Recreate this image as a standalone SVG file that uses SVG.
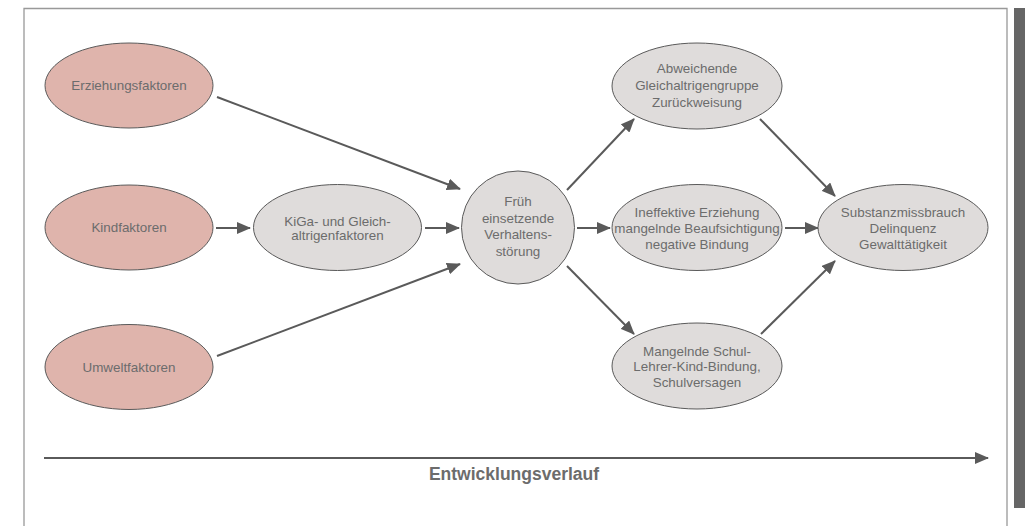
<svg xmlns="http://www.w3.org/2000/svg" width="1025" height="526" viewBox="0 0 1025 526">
<style>
.pink{fill:#dfb4ac;stroke:#5a5a5a;stroke-width:1}
.gray{fill:#dfdcdb;stroke:#5a5a5a;stroke-width:1}
text{font-family:"Liberation Sans",Arial,sans-serif;font-size:13.4px;fill:#6c6c6c;text-anchor:middle}
.con line{stroke:#5a5a5a;stroke-width:2;marker-end:url(#ah)}
</style>
<defs>
<marker id="ah" markerUnits="userSpaceOnUse" markerWidth="14" markerHeight="12" viewBox="0 0 14 12" refX="13" refY="6" orient="auto">
<path d="M0,0 L14,6 L0,12 Z" fill="#5a5a5a"/>
</marker>
</defs>
<rect x="0" y="0" width="1025" height="526" fill="#fff"/>
<path d="M24,540 V8.5 H1007 V540" fill="none" stroke="#999" stroke-width="1.3"/>
<rect x="1014" y="8" width="11" height="500" fill="#666"/>

<g class="con">
<line x1="217" y1="97" x2="460" y2="189"/>
<line x1="216" y1="228" x2="250" y2="228"/>
<line x1="425" y1="228" x2="459" y2="228"/>
<line x1="217" y1="356" x2="460" y2="264"/>
<line x1="567" y1="190" x2="634" y2="119"/>
<line x1="577" y1="228" x2="610" y2="228"/>
<line x1="567" y1="266" x2="634" y2="334"/>
<line x1="760" y1="119" x2="835" y2="196"/>
<line x1="785" y1="228" x2="818" y2="228"/>
<line x1="761" y1="334" x2="835" y2="261"/>
<line x1="44" y1="458" x2="988" y2="458"/>
</g>

<g id="erziehung"><ellipse class="pink" cx="129" cy="85.5" rx="84" ry="42.5"/><text x="129" y="90">Erziehungsfaktoren</text></g>
<g id="kind"><ellipse class="pink" cx="129" cy="227.5" rx="84" ry="42.5"/><text x="129" y="232">Kindfaktoren</text></g>
<g id="umwelt"><ellipse class="pink" cx="129" cy="367" rx="84" ry="42.5"/><text x="129" y="371.5">Umweltfaktoren</text></g>
<g id="kiga"><ellipse class="gray" cx="337.5" cy="227.5" rx="84" ry="43"/><text x="337.5" y="226">KiGa- und Gleich-</text><text x="337.5" y="240">altrigenfaktoren</text></g>
<g id="frueh"><circle class="gray" cx="518" cy="227.5" r="56.5"/><text x="518" y="206">Früh</text><text x="518" y="222.5">einsetzende</text><text x="518" y="239">Verhaltens-</text><text x="518" y="255.5">störung</text></g>
<g id="abweichend"><ellipse class="gray" cx="697" cy="86" rx="85" ry="43"/><text x="697" y="73">Abweichende</text><text x="697" y="90">Gleichaltrigengruppe</text><text x="697" y="107">Zurückweisung</text></g>
<g id="ineffektiv"><ellipse class="gray" cx="697" cy="227.5" rx="85" ry="43"/><text x="697" y="217">Ineffektive Erziehung</text><text x="697" y="233">mangelnde Beaufsichtigung</text><text x="697" y="248.5">negative Bindung</text></g>
<g id="mangelnd"><ellipse class="gray" cx="697" cy="366" rx="85" ry="43"/><text x="697" y="355.5">Mangelnde Schul-</text><text x="697" y="371">Lehrer-Kind-Bindung,</text><text x="697" y="386.5">Schulversagen</text></g>
<g id="substanz"><ellipse class="gray" cx="903" cy="227.5" rx="85" ry="43"/><text x="903" y="217">Substanzmissbrauch</text><text x="903" y="233">Delinquenz</text><text x="903" y="248.5">Gewalttätigkeit</text></g>
<g id="label"><text x="514" y="480" style="font-weight:bold;font-size:17.5px">Entwicklungsverlauf</text></g>
</svg>
